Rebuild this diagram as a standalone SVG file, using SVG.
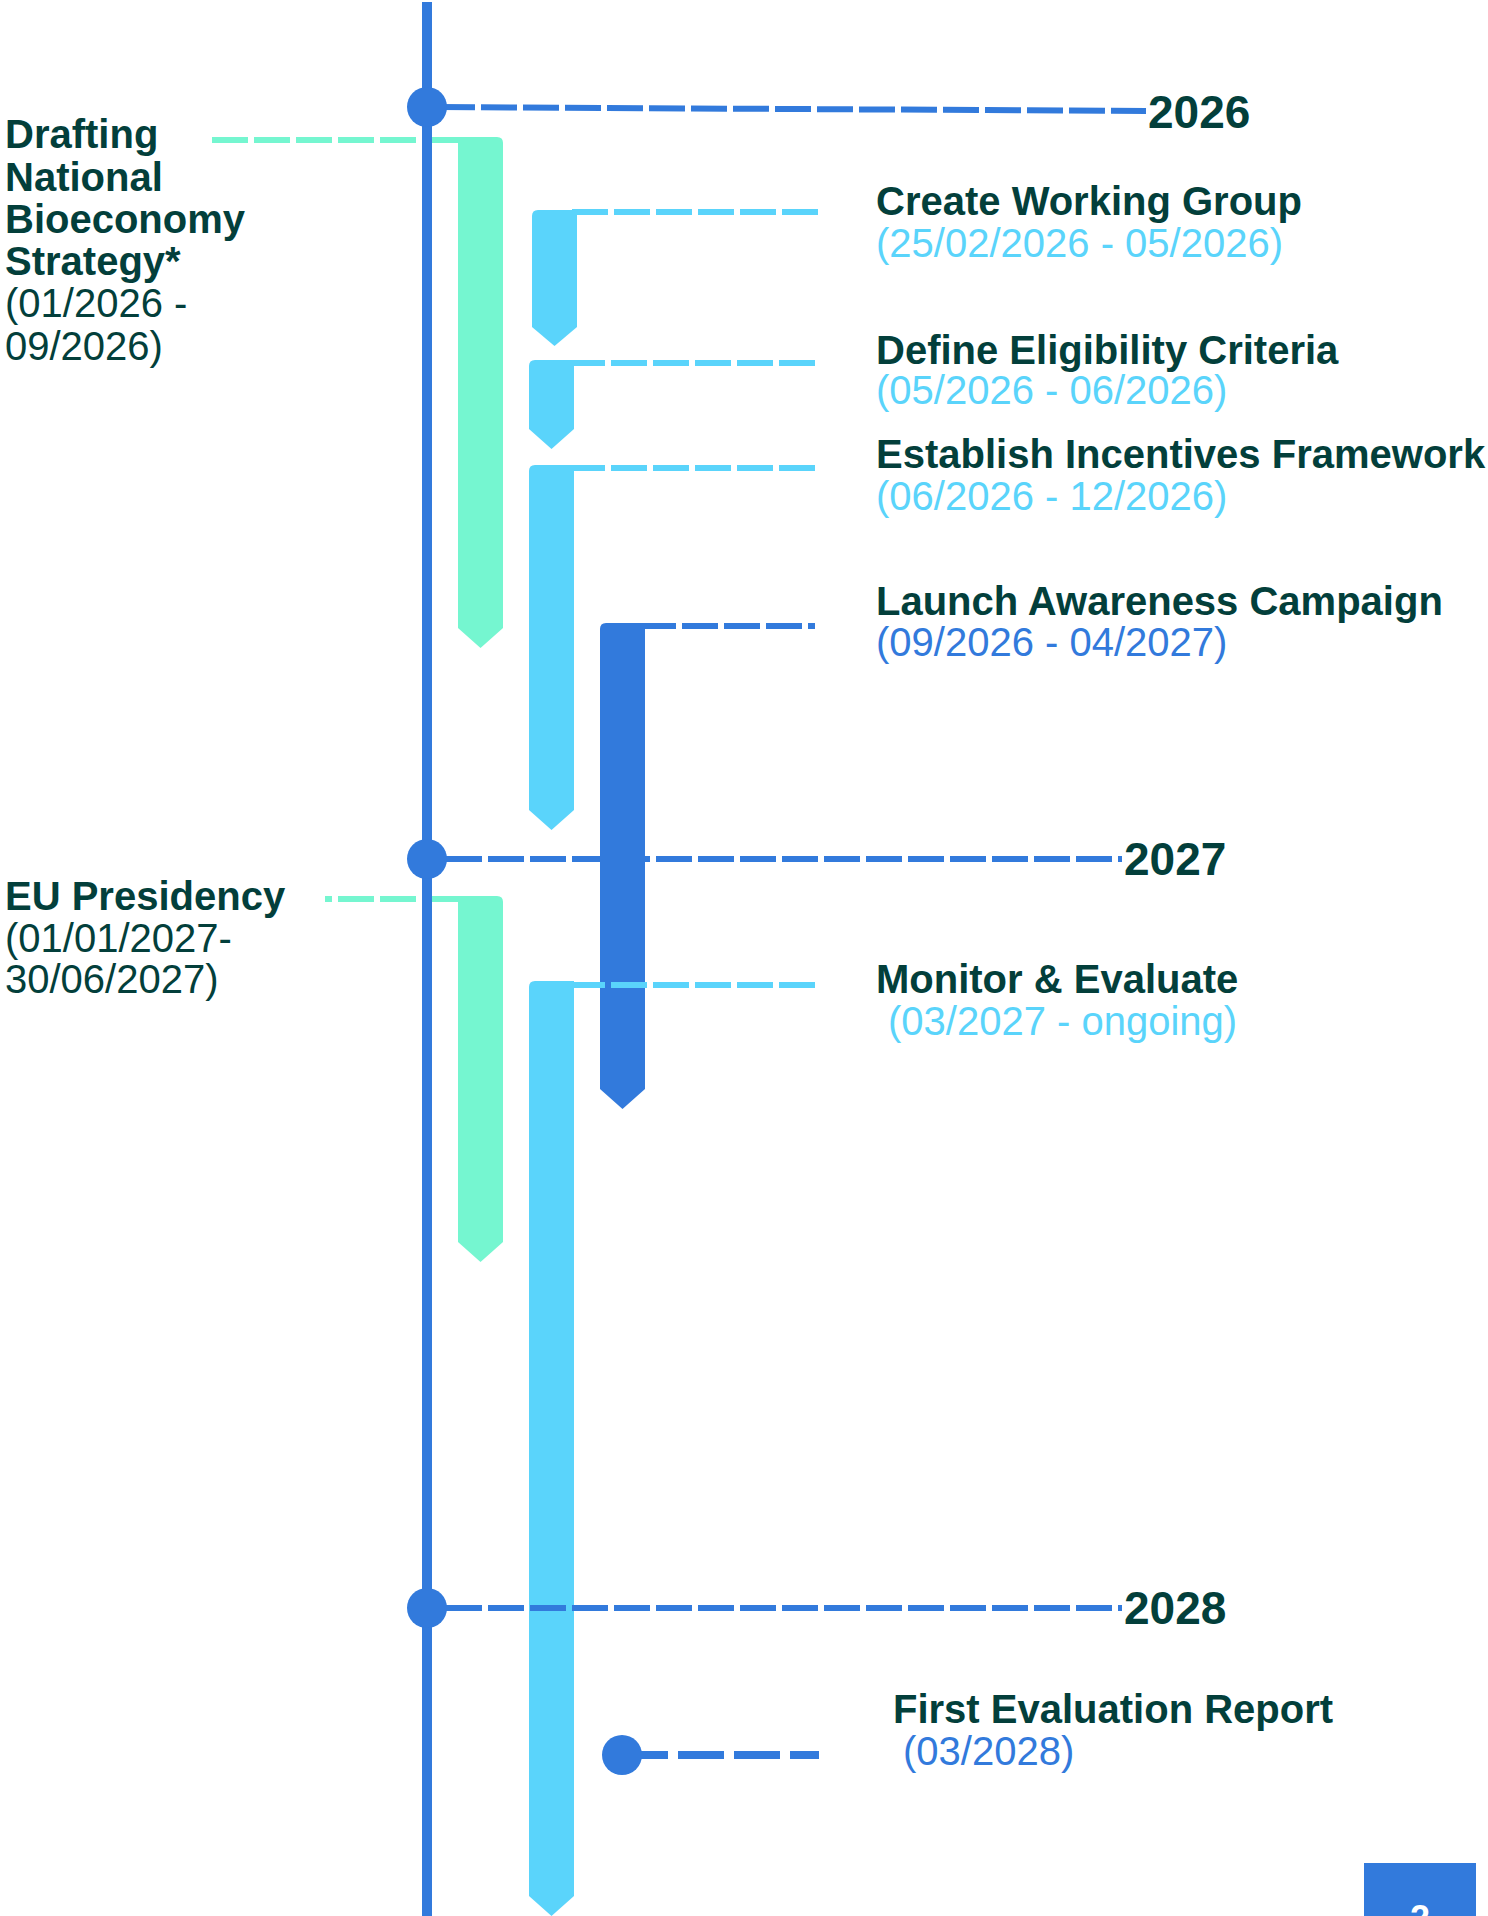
<svg xmlns="http://www.w3.org/2000/svg" width="1488" height="1916" viewBox="0 0 1488 1916">
  <style>
    text { font-family: "Liberation Sans", Arial, Helvetica, sans-serif; }
    .title { font-size: 40px; font-weight: bold; fill: #033F3B; }
    .side { font-size: 40px; fill: #033F3B; }
    .date-light { font-size: 40px; fill: #5AD4FB; }
    .date-blue { font-size: 40px; fill: #327ADC; }
    .year { font-size: 46px; font-weight: bold; fill: #033F3B; }
    .bar-green { fill: #75F6D0; }
    .bar-light { fill: #5AD4FB; }
    .bar-blue { fill: #327ADC; }
    .dash { fill: none; stroke-width: 6; stroke-dasharray: 36 6; }
    .dash-green { stroke: #75F6D0; }
    .dash-light { stroke: #5AD4FB; }
    .dash-blue { stroke: #327ADC; }
    .marker { fill: #327ADC; }
  </style>

  <!-- Left-hand phases (green bars, rounded corner on the right) -->
  <g id="node-drafting-strategy">
    <path class="bar-green" d="M458,137 L497,137 Q503,137 503,143 L503,628 L480.5,648 L458,628 Z"/>
    <text class="title" x="5" y="148">Drafting</text>
    <text class="title" x="5" y="191">National</text>
    <text class="title" x="5" y="233">Bioeconomy</text>
    <text class="title" x="5" y="275">Strategy*</text>
    <text class="side" x="5" y="317">(01/2026 -</text>
    <text class="side" x="5" y="360">09/2026)</text>
  </g>

  <g id="node-eu-presidency">
    <path class="bar-green" d="M458,896 L497,896 Q503,896 503,902 L503,1242 L480.5,1262 L458,1242 Z"/>
    <text class="title" x="5" y="910">EU Presidency</text>
    <text class="side" x="5" y="952">(01/01/2027-</text>
    <text class="side" x="5" y="993">30/06/2027)</text>
  </g>

  <!-- Right-hand activities (rounded corner on the left) -->
  <g id="node-working-group">
    <path class="bar-light" d="M532,216 Q532,210 538,210 L577,210 L577,327 L554.5,346 L532,327 Z"/>
    <text class="title" x="876" y="215">Create Working Group</text>
    <text class="date-light" x="876" y="257">(25/02/2026 - 05/2026)</text>
  </g>

  <g id="node-eligibility">
    <path class="bar-light" d="M529,366 Q529,360 535,360 L574,360 L574,429 L551.5,449 L529,429 Z"/>
    <text class="title" x="876" y="364">Define Eligibility Criteria</text>
    <text class="date-light" x="876" y="404">(05/2026 - 06/2026)</text>
  </g>

  <g id="node-incentives">
    <path class="bar-light" d="M529,471 Q529,465 535,465 L574,465 L574,810 L551.5,830 L529,810 Z"/>
    <text class="title" x="876" y="468">Establish Incentives Framework</text>
    <text class="date-light" x="876" y="510">(06/2026 - 12/2026)</text>
  </g>

  <g id="node-awareness">
    <path class="bar-blue" d="M600,629 Q600,623 606,623 L645,623 L645,1089 L622.5,1109 L600,1089 Z"/>
    <text class="title" x="876" y="615">Launch Awareness Campaign</text>
    <text class="date-blue" x="876" y="656">(09/2026 - 04/2027)</text>
  </g>

  <g id="node-monitor">
    <path class="bar-light" d="M529,987 Q529,981 535,981 L574,981 L574,1896 L551.5,1916 L529,1896 Z"/>
    <text class="title" x="876" y="993">Monitor &amp; Evaluate</text>
    <text class="date-light" x="888" y="1035">(03/2027 - ongoing)</text>
  </g>

  <g id="node-first-report">
    <circle class="marker" cx="622" cy="1755" r="20"/>
    <text class="title" x="893" y="1723">First Evaluation Report</text>
    <text class="date-blue" x="903" y="1765">(03/2028)</text>
  </g>

  <!-- Dashed leader lines -->
  <g id="connectors">
    <path class="dash dash-green" d="M458,140 L208,140"/>
    <path class="dash dash-green" d="M458,899 L325,899"/>
    <path class="dash dash-light" d="M572,212 L819,212"/>
    <path class="dash dash-light" d="M569,363 L815,363"/>
    <path class="dash dash-light" d="M569,468 L815,468"/>
    <path class="dash dash-blue" d="M640,626 L815,626"/>
    <path class="dash dash-light" d="M569,985 L815,985"/>
    <path class="dash dash-blue" d="M439,107 L1146,111"/>
    <path class="dash dash-blue" d="M446,859 L1122,859"/>
    <path class="dash dash-blue" d="M446,1608 L1122,1608"/>
    <path fill="none" stroke="#327ADC" stroke-width="8" stroke-dasharray="46 10" d="M622,1755 L819,1755"/>
  </g>

  <!-- Main time axis with year markers -->
  <g id="axis">
    <rect class="marker" x="422" y="2" width="10" height="1914"/>
  </g>

  <g id="year-2026">
    <circle class="marker" cx="427" cy="107" r="20"/>
    <text class="year" x="1148" y="128">2026</text>
  </g>
  <g id="year-2027">
    <circle class="marker" cx="427" cy="859" r="20"/>
    <text class="year" x="1124" y="875">2027</text>
  </g>
  <g id="year-2028">
    <circle class="marker" cx="427" cy="1608" r="20"/>
    <text class="year" x="1124" y="1624">2028</text>
  </g>

  <!-- Page number tab -->
  <g id="page-number">
    <rect class="marker" x="1364" y="1863" width="112" height="60"/>
    <text x="1420" y="1931" font-size="36" font-weight="bold" fill="#FFFFFF" text-anchor="middle">2</text>
  </g>
</svg>
